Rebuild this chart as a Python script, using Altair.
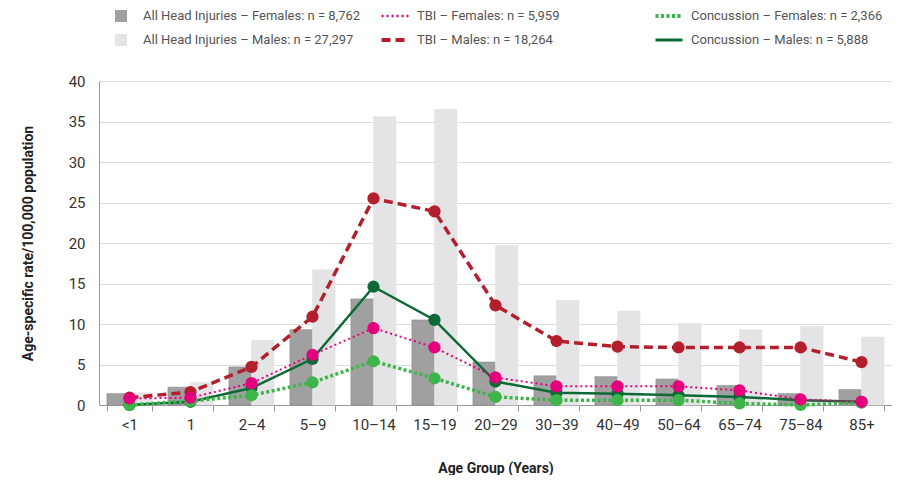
import altair as alt
import pandas as pd

ages = ["<1", "1", "2–4", "5–9", "10–14", "15–19", "20–29", "30–39",
        "40–49", "50–64", "65–74", "75–84", "85+"]
ahi_f = [1.4, 2.2, 4.7, 9.3, 13.1, 10.5, 5.3, 3.6, 3.5, 3.2, 2.4, 1.4, 1.9]
ahi_m = [1.5, 2.8, 8.0, 16.7, 35.6, 36.5, 19.7, 12.9, 11.6, 10.1, 9.3, 9.7, 8.4]
tbi_m = [0.9, 1.6, 4.7, 10.9, 25.5, 23.9, 12.3, 7.9, 7.2, 7.1, 7.1, 7.1, 5.3]
tbi_f = [0.8, 0.9, 2.7, 6.2, 9.5, 7.1, 3.4, 2.3, 2.3, 2.3, 1.8, 0.7, 0.4]
conc_m = [0.0, 0.4, 2.1, 5.7, 14.6, 10.5, 2.9, 1.5, 1.4, 1.2, 1.0, 0.6, 0.4]
conc_f = [0.0, 0.5, 1.2, 2.8, 5.4, 3.3, 1.0, 0.6, 0.6, 0.6, 0.2, 0.0, 0.3]

lbl_ahi_f = "All Head Injuries – Females: n = 8,762"
lbl_ahi_m = "All Head Injuries – Males: n = 27,297"
lbl_tbi_f = "TBI – Females: n = 5,959"
lbl_tbi_m = "TBI – Males: n = 18,264"
lbl_conc_f = "Concussion – Females: n = 2,366"
lbl_conc_m = "Concussion – Males: n = 5,888"

legend_labels = [lbl_ahi_f, lbl_tbi_f, lbl_conc_f, lbl_ahi_m, lbl_tbi_m, lbl_conc_m]
legend_cols = [0, 1, 2, 0, 1, 2]
legend_rows = [0, 0, 0, 1, 1, 1]

FONT = "Roboto"
LFONT = "Roboto"
W, H = 793, 324

bar_df = pd.DataFrame({
    "age": ages * 2,
    "sex": ["F"] * len(ages) + ["M"] * len(ages),
    "value": ahi_f + ahi_m,
})

line_styles = [
    (lbl_tbi_m, tbi_m, "#b31f2d", [9, 5], 3.5),
    (lbl_conc_m, conc_m, "#0d6a36", None, 2.5),
    (lbl_conc_f, conc_f, "#3db54a", [3, 2.5], 3.5),
    (lbl_tbi_f, tbi_f, "#e5007d", [2, 3], 2),
]

xscale = alt.Scale(domain=ages, paddingInner=0.26, paddingOuter=0.13)
yscale = alt.Scale(domain=[0, 40], nice=False)

xaxis = alt.Axis(title="Age Group (Years)", labelAngle=0, tickBand="extent",
                 tickSize=6, tickColor="#9a9a9a", domainColor="#9a9a9a",
                 labelFont=FONT, labelFontSize=15, labelColor="#333333",
                 labelPadding=6, titleFont=FONT, titleFontSize=14,
                 titleFontWeight="bold", titleColor="#222222", titlePadding=29,
                 grid=False)
yaxis = alt.Axis(title="Age-specific rate/100,000 population",
                 values=list(range(0, 41, 5)), ticks=False, domainColor="#9a9a9a",
                 gridColor="#dedede", labelFont=FONT, labelFontSize=15,
                 labelColor="#333333", labelPadding=14, titleFont=FONT,
                 titleFontSize=14, titleFontWeight="bold", titleColor="#222222",
                 titlePadding=33)

bars = alt.Chart(bar_df).mark_bar(strokeWidth=0.6).encode(
    x=alt.X("age:N", scale=xscale, axis=xaxis, sort=ages),
    xOffset=alt.XOffset("sex:N", scale=alt.Scale(domain=["F", "M"], paddingInner=0, paddingOuter=0)),
    y=alt.Y("value:Q", scale=yscale, axis=yaxis),
    color=alt.Color("sex:N", scale=alt.Scale(domain=["F", "M"], range=["#a0a0a0", "#e4e4e6"]), legend=None),
    stroke=alt.Stroke("sex:N", scale=alt.Scale(domain=["F", "M"], range=["#8a8a8a", "#e4e4e6"]), legend=None),
)

layers = [bars]
for name, vals, col, dash, sw in line_styles:
    df = pd.DataFrame({"age": ages, "value": vals})
    lkw = dict(color=col, strokeWidth=sw)
    if dash:
        lkw["strokeDash"] = dash
    base = alt.Chart(df).encode(
        x=alt.X("age:N", scale=xscale, sort=ages),
        y=alt.Y("value:Q", scale=yscale),
    )
    layers.append(base.mark_line(**lkw))
    layers.append(base.mark_point(filled=True, size=150, opacity=1, color=col))

main = alt.layer(*layers).properties(width=W, height=H)

leg_df = pd.DataFrame({"label": legend_labels, "col": legend_cols, "row": legend_rows})
lx = alt.X("col:O", scale=alt.Scale(range=[22, 570], padding=0), axis=None)
ly = alt.Y("row:O", scale=alt.Scale(range=[8, 32], padding=0), axis=None)
lbase = alt.Chart(leg_df).encode(x=lx, y=ly)

leg_layers = [
    lbase.mark_text(align="left", baseline="middle", dx=22, font=LFONT,
                    fontSize=13, color="#555555").encode(text="label:N"),
    lbase.transform_filter(alt.datum.label == lbl_ahi_f).mark_point(
        shape="square", filled=True, size=144, color="#a0a0a0", opacity=1),
    lbase.transform_filter(alt.datum.label == lbl_ahi_m).mark_point(
        shape="square", filled=True, size=144, color="#e4e4e6", opacity=1),
]
for name, vals, col, dash, sw in line_styles:
    kw = dict(shape="M-1,0L1,0", filled=False, size=729, color=col,
              strokeWidth=sw + 0.5, opacity=1)
    if dash:
        kw["strokeDash"] = dash
    leg_layers.append(lbase.transform_filter(alt.datum.label == name).mark_point(**kw))

legend = alt.layer(*leg_layers).properties(width=W, height=40)

chart = alt.vconcat(legend, main, spacing=26).configure_view(stroke=None).properties(
    background="white", padding={"left": 13, "top": 0, "right": 0, "bottom": 0})

chart.save("out.html", embed_options={"renderer": "svg", "actions": False})
